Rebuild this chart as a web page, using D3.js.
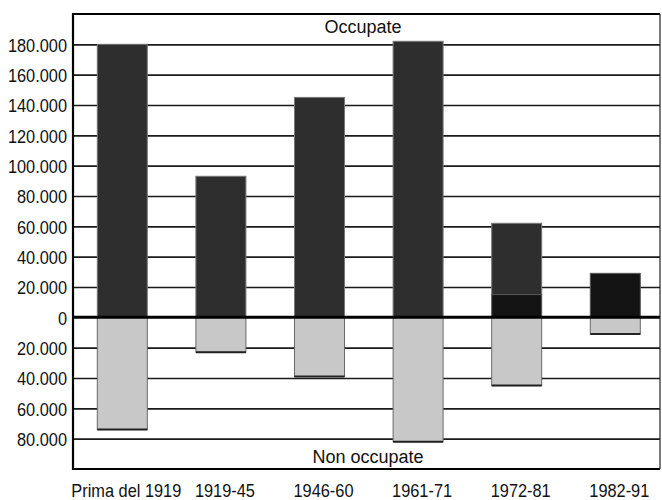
<!DOCTYPE html>
<html>
<head>
<meta charset="utf-8">
<script src="https://cdn.jsdelivr.net/npm/d3@7"></script>
<style>
  body { margin: 0; background: #fff; }
  svg { display: block; }
  .tick text { font-family: "Liberation Sans", Arial, sans-serif; font-size: 19px; fill: #111; }
  .xlab { font-family: "Liberation Sans", Arial, sans-serif; font-size: 19px; fill: #111; }
  .title { font-family: "Liberation Sans", Arial, sans-serif; font-size: 18px; fill: #111; }
</style>
</head>
<body>
<svg id="chart"></svg>
<script>
// data
const categories = ["Prima del 1919", "1919-45", "1946-60", "1961-71", "1972-81", "1982-91"]
const occupate = [180000, 93000, 145000, 182000, 62000, 29000]     // total above zero
const occupateDark = [0, 0, 0, 0, 15000, 29000]                   // darker lower segment
const nonOccupate = [74000, 23000, 39000, 82000, 45000, 11000]    // below zero
const tickValues = [-80000, -60000, -40000, -20000, 0, 20000, 40000, 60000, 80000, 100000, 120000, 140000, 160000, 180000]

const width = 662
const height = 500
const mLeft = 73, mRight = 660, mTop = 14, mBottom = 469

const svg = d3.select("#chart").attr("width", width).attr("height", height)

const x = d3.scaleBand().domain(categories).range([mLeft, mLeft + 6 * 98.6]).padding(0)
const y = d3.scaleLinear().domain([-100000, 200000]).range([mBottom, mTop])

const fmt = v => d3.format(",")(Math.abs(v)).replace(/,/g, ".")

// squeeze text to look like a narrow face
const narrow = sel => sel.each(function () {
    const len = this.getComputedTextLength()
    d3.select(this).attr("textLength", len * 0.86).attr("lengthAdjust", "spacingAndGlyphs")
})

// grid + tick labels
const yAxis = d3.axisLeft(y)
    .tickValues(tickValues)
    .tickSize(-(mRight - mLeft))
    .tickPadding(6)
    .tickFormat(fmt)
const axisY = svg.append("g")
    .attr("transform", `translate(${mLeft},0)`)
    .call(yAxis)
axisY.select(".domain").remove()
axisY.selectAll(".tick line")
    .attr("stroke", "#1a1a1a")
    .attr("stroke-width", d => d === 0 ? 0 : 1.6)
axisY.selectAll(".tick text").attr("dy", "0.36em").call(narrow)

const bw = 50
const bx = d => x(d) + x.bandwidth() / 2 - bw / 2

// bars: non occupate (below zero)
svg.append("g").selectAll("rect")
    .data(categories)
    .join("rect")
    .attr("x", bx)
    .attr("y", y(0))
    .attr("width", bw)
    .attr("height", (d, i) => y(-nonOccupate[i]) - y(0))
    .attr("fill", "#c8c8c8")
    .attr("stroke", "#6a6a6a")
    .attr("stroke-width", 1)

svg.append("g").selectAll("line")
    .data(categories)
    .join("line")
    .attr("x1", bx)
    .attr("x2", d => bx(d) + bw)
    .attr("y1", (d, i) => y(-nonOccupate[i]))
    .attr("y2", (d, i) => y(-nonOccupate[i]))
    .attr("stroke", "#222")
    .attr("stroke-width", 2)

// bars: occupate (upper dark gray part)
svg.append("g").selectAll("rect")
    .data(categories)
    .join("rect")
    .attr("x", bx)
    .attr("y", (d, i) => y(occupate[i]))
    .attr("width", bw)
    .attr("height", (d, i) => y(occupateDark[i]) - y(occupate[i]))
    .attr("fill", "#2e2e2e")
    .attr("stroke", "#777")
    .attr("stroke-width", 1)

// bars: occupate (lower black part)
svg.append("g").selectAll("rect")
    .data(categories.filter((d, i) => occupateDark[i] > 0))
    .join("rect")
    .attr("x", bx)
    .attr("y", d => y(occupateDark[categories.indexOf(d)]))
    .attr("width", bw)
    .attr("height", d => y(0) - y(occupateDark[categories.indexOf(d)]))
    .attr("fill", "#141414")
    .attr("stroke", "#555")
    .attr("stroke-width", 1)

// zero line
svg.append("line")
    .attr("x1", mLeft).attr("x2", mRight)
    .attr("y1", y(0)).attr("y2", y(0))
    .attr("stroke", "#000").attr("stroke-width", 3)

// frame
svg.append("path")
    .attr("d", `M${mRight},${mTop}H${mLeft}V${mBottom}H${mRight}`)
    .attr("fill", "none").attr("stroke", "#000").attr("stroke-width", 2.2)
svg.append("line")
    .attr("x1", mRight).attr("x2", mRight).attr("y1", mTop).attr("y2", mBottom)
    .attr("stroke", "#222").attr("stroke-width", 1.2)

// labels
svg.append("text").attr("class", "title")
    .attr("x", 363).attr("y", 33).attr("text-anchor", "middle").text("Occupate")
svg.append("text").attr("class", "title")
    .attr("x", 368).attr("y", 463).attr("text-anchor", "middle").text("Non occupate")

svg.append("g").selectAll("text")
    .data(categories)
    .join("text")
    .attr("class", "xlab")
    .attr("x", d => x(d) + x.bandwidth() / 2 + 4)
    .attr("y", 497)
    .attr("text-anchor", "middle")
    .text(d => d)
    .call(narrow)
</script>
</body>
</html>
